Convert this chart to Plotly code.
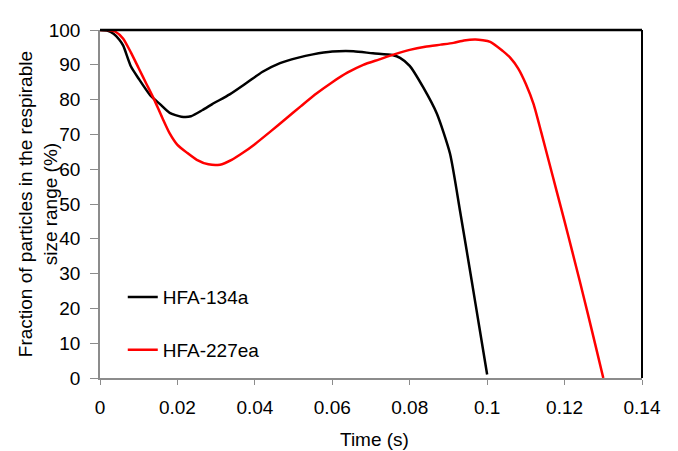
import plotly.graph_objects as go

# HFA-134a
t_134a = [0, 0.002, 0.0035, 0.005, 0.006, 0.008, 0.010, 0.013, 0.0155, 0.018, 0.021, 0.0235,
          0.0265, 0.029, 0.0335, 0.038, 0.042, 0.0465, 0.051, 0.055, 0.060, 0.0655, 0.0705,
          0.0755, 0.0775, 0.080, 0.0835, 0.087, 0.0904, 0.093, 0.096, 0.098, 0.100]
v_134a = [100, 99.8, 98.9, 97.2, 95.5, 89.5, 86.0, 81.2, 78.7, 76.2, 75.1, 75.2,
          77.0, 78.7, 81.5, 84.9, 88.0, 90.5, 92.0, 93.0, 93.8, 93.9, 93.3,
          92.8, 92.0, 89.7, 83.5, 76.0, 64.5, 48.0, 28.0, 14.5, 1.0]

# HFA-227ea
t_227ea = [0, 0.002, 0.004, 0.006, 0.008, 0.010, 0.012, 0.014, 0.016, 0.018, 0.020, 0.0225,
           0.025, 0.028, 0.031, 0.034, 0.037, 0.040, 0.044, 0.048, 0.052, 0.056, 0.060,
           0.064, 0.068, 0.072, 0.076, 0.080, 0.084, 0.088, 0.0913, 0.094, 0.097, 0.1008,
           0.104, 0.106, 0.108, 0.110, 0.112, 0.114, 0.116, 0.118, 0.120, 0.122, 0.124,
           0.126, 0.128, 0.130]
v_227ea = [100, 100, 99.5, 97.5, 93.5, 89.0, 84.5, 80.0, 75.0, 70.3, 67.0, 64.7,
           62.7, 61.4, 61.3, 62.7, 64.8, 67.2, 70.8, 74.5, 78.2, 81.8, 85.0,
           87.8, 90.0, 91.5, 93.0, 94.3, 95.2, 95.8, 96.3, 97.0, 97.3, 96.6,
           94.0, 92.0, 89.0, 84.5, 78.7, 70.5, 62.0, 53.5, 45.0, 36.3, 27.5,
           18.5, 9.3, 0]

x_ticks = [0, 0.02, 0.04, 0.06, 0.08, 0.1, 0.12, 0.14]
x_tick_labels = ["0", "0.02", "0.04", "0.06", "0.08", "0.1", "0.12", "0.14"]
y_ticks = [0, 10, 20, 30, 40, 50, 60, 70, 80, 90, 100]

x_title = "Time (s)"
y_title = "Fraction of particles in the respirable<br>size range (%)"

fig = go.Figure()
fig.add_trace(go.Scatter(x=t_134a, y=v_134a, mode="lines", name="HFA-134a",
                         legendgroup="a",
                         line=dict(color="black", width=2.5, shape="spline", smoothing=0.6)))
fig.add_trace(go.Scatter(x=t_227ea, y=v_227ea, mode="lines", name="HFA-227ea",
                         legendgroup="b",
                         line=dict(color="#ff0000", width=2.5, shape="spline", smoothing=0.6)))

axis_font = dict(family="Liberation Sans, Arial", size=19, color="black")

# page has an 8px body margin; figure is sized to fill the rest of the window
fig.update_layout(
    width=670, height=443,
    margin=dict(l=92, r=36, t=13, b=73),
    paper_bgcolor="white", plot_bgcolor="white",
    font=axis_font,
    showlegend=True,
    legend=dict(x=0.042, y=0.287, xanchor="left", yanchor="top",
                bgcolor="rgba(0,0,0,0)", font=axis_font,
                tracegroupgap=25, traceorder="grouped"),
    xaxis=dict(range=[0, 0.14], tickvals=x_ticks, ticktext=x_tick_labels,
               showgrid=False, zeroline=False, showline=True, linecolor="#8c8c8c",
               linewidth=1.5, ticks="outside", tickcolor="#8c8c8c", ticklen=5,
               ticklabelstandoff=6, tickfont=axis_font),
    yaxis=dict(range=[0, 100], tickvals=y_ticks,
               showgrid=False, zeroline=False, showline=True, linecolor="#8c8c8c",
               linewidth=1.5, ticks="outside", tickcolor="#8c8c8c", ticklen=8,
               ticklabelstandoff=6, tickfont=axis_font),
    annotations=[
        dict(text=x_title, xref="paper", yref="paper", x=0.506, y=-0.176,
             xanchor="center", yanchor="middle", showarrow=False, font=axis_font),
        dict(text=y_title, xref="paper", yref="paper", x=-0.114, y=0.5,
             xanchor="center", yanchor="middle", showarrow=False, textangle=-90,
             font=axis_font),
    ],
)

# top and right frame in black
fig.add_shape(type="line", xref="paper", yref="paper", x0=0, x1=1, y0=1, y1=1,
              line=dict(color="black", width=2.5))
fig.add_shape(type="line", xref="paper", yref="paper", x0=1, x1=1, y0=0, y1=1,
              line=dict(color="black", width=2))

fig.write_html("out.html")
